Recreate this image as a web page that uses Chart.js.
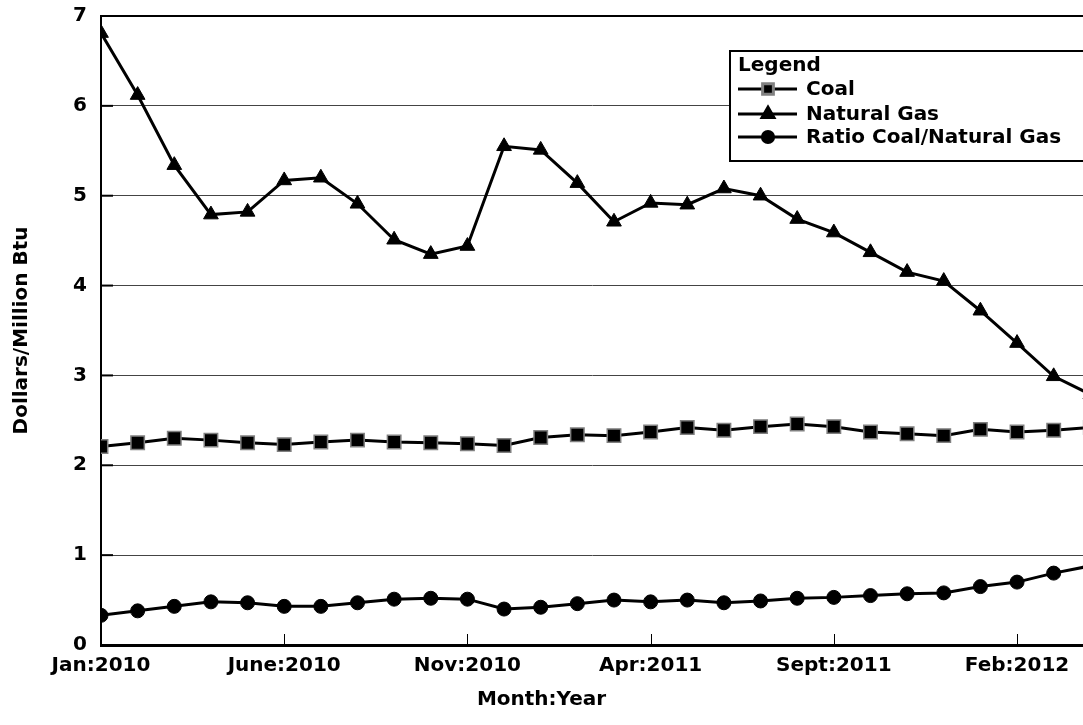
<!DOCTYPE html>
<html>
<head>
<meta charset="utf-8">
<title>Coal and Natural Gas prices</title>
<script src="https://cdn.jsdelivr.net/npm/chart.js@4.4.1/dist/chart.umd.min.js"></script>
<style>
    body { margin: 0; background: #fff; }
    #chart { display: block; }
</style>
</head>
<body>
<canvas id="chart" width="1083" height="725"></canvas>
<script>
"use strict";

// maanden vanaf Jan:2010 (index 0) t/m Apr:2012
const tickLabels = ["Jan:2010", "June:2010", "Nov:2010", "Apr:2011", "Sept:2011", "Feb:2012"];

const coal = [2.21, 2.25, 2.30, 2.28, 2.25, 2.23, 2.26, 2.28, 2.26, 2.25,
    2.24, 2.22, 2.31, 2.34, 2.33, 2.37, 2.42, 2.39, 2.43, 2.46,
    2.43, 2.37, 2.35, 2.33, 2.40, 2.37, 2.39, 2.42];

const naturalGas = [6.81, 6.12, 5.34, 4.79, 4.82, 5.17, 5.20, 4.91, 4.51, 4.35,
    4.44, 5.55, 5.51, 5.14, 4.71, 4.92, 4.90, 5.08, 5.00, 4.74,
    4.59, 4.37, 4.15, 4.05, 3.72, 3.36, 2.99, 2.79];

const ratio = [0.33, 0.38, 0.43, 0.48, 0.47, 0.43, 0.43, 0.47, 0.51, 0.52,
    0.51, 0.40, 0.42, 0.46, 0.50, 0.48, 0.50, 0.47, 0.49, 0.52,
    0.53, 0.55, 0.57, 0.58, 0.65, 0.70, 0.80, 0.88];

const FONT = "'DejaVu Sans', 'Liberation Sans', Arial, sans-serif";

function toPoints(values) {
    return values.map((v, i) => ({ x: i, y: v }));
}

// legenda binnen de grafiek, x-titel en kleine streepjes langs de assen
const extras = {
    id: "extras",
    afterDraw(chart) {
        const ctx = chart.ctx;
        const area = chart.chartArea;
        const xs = chart.scales.x;
        const ys = chart.scales.y;

        ctx.save();
        ctx.strokeStyle = "#000";
        ctx.lineWidth = 1;
        for (let m = 5; m < 27; m += 5) {
            const px = Math.round(xs.getPixelForValue(m)) + 0.5;
            ctx.beginPath();
            ctx.moveTo(px, area.bottom);
            ctx.lineTo(px, area.bottom - 11);
            ctx.stroke();
        }
        ctx.lineWidth = 2;
        for (let v = 1; v < 7; v++) {
            const py = ys.getPixelForValue(v);
            ctx.beginPath();
            ctx.moveTo(area.left, py);
            ctx.lineTo(area.left + 12, py);
            ctx.stroke();
        }

        ctx.fillStyle = "#000";
        ctx.font = "bold 20px " + FONT;
        ctx.textBaseline = "middle";

        // as-titel onderaan, gecentreerd op het hele canvas
        ctx.textAlign = "center";
        ctx.fillText("Month:Year", chart.width / 2, 700);

        // legenda
        const box = { x: 730, y: 51, w: 360, h: 110 };
        ctx.fillStyle = "#fff";
        ctx.fillRect(box.x, box.y, box.w, box.h);
        ctx.lineWidth = 2;
        ctx.strokeRect(box.x, box.y, box.w, box.h);

        ctx.fillStyle = "#000";
        ctx.textAlign = "left";
        ctx.fillText("Legend", 738, 66);

        const rows = [89, 114, 137];
        chart.data.datasets.forEach((ds, i) => {
            const y = rows[i];
            ctx.strokeStyle = "#000";
            ctx.lineWidth = 3;
            ctx.beginPath();
            ctx.moveTo(738, y);
            ctx.lineTo(797, y);
            ctx.stroke();
            ctx.fillStyle = "#000";
            ctx.strokeStyle = ds.pointBorderColor;
            Chart.helpers.drawPoint(ctx, {
                pointStyle: ds.pointStyle,
                radius: ds.pointRadius * 0.8,
                rotation: 0,
                borderWidth: ds.pointBorderWidth
            }, 768, y);
            ctx.fillStyle = "#000";
            ctx.fillText(ds.label, 806, y + 1);
        });
        ctx.restore();
    }
};

const ctx = document.getElementById("chart").getContext("2d");
const chart = new Chart(ctx, {
    type: "line",
    data: {
        datasets: [{
            label: "Coal",
            data: toPoints(coal),
            borderColor: "#000",
            borderWidth: 3,
            pointStyle: "rect",
            pointRadius: 9.5,
            pointBackgroundColor: "#000",
            pointBorderColor: "#808080",
            pointBorderWidth: 1.5
        }, {
            label: "Natural Gas",
            data: toPoints(naturalGas),
            borderColor: "#000",
            borderWidth: 3,
            pointStyle: "triangle",
            pointRadius: 8.5,
            pointBackgroundColor: "#000",
            pointBorderColor: "#000",
            pointBorderWidth: 1
        }, {
            label: "Ratio Coal/Natural Gas",
            data: toPoints(ratio),
            borderColor: "#000",
            borderWidth: 3,
            pointStyle: "circle",
            pointRadius: 7,
            pointBackgroundColor: "#000",
            pointBorderColor: "#000",
            pointBorderWidth: 1
        }]
    },
    options: {
        responsive: false,
        animation: false,
        layout: {
            autoPadding: false,
            padding: { top: 16, right: 0, left: 0, bottom: 0 }
        },
        plugins: {
            legend: { display: false },
            tooltip: { enabled: false }
        },
        scales: {
            x: {
                type: "linear",
                min: 0,
                max: 26.8,
                afterFit(scale) {
                    scale.height = 80;
                    scale.paddingLeft = 0;
                    scale.paddingRight = 0;
                },
                border: { color: "#000", width: 3 },
                grid: { display: false },
                ticks: {
                    stepSize: 5,
                    includeBounds: false,
                    autoSkip: false,
                    maxRotation: 0,
                    padding: 1,
                    color: "#000",
                    font: { family: FONT, size: 20, weight: "bold" },
                    callback: v => (v % 5 === 0 ? tickLabels[v / 5] : "")
                }
            },
            y: {
                min: 0,
                max: 7,
                afterFit(scale) {
                    scale.width = 101;
                    scale.paddingTop = 0;
                    scale.paddingBottom = 0;
                },
                border: { color: "#000", width: 2 },
                grid: {
                    drawTicks: false,
                    color: c => (c.tick.value === 7 ? "#000" : "#444"),
                    lineWidth: c => (c.tick.value === 7 ? 2 : 1)
                },
                ticks: {
                    stepSize: 1,
                    padding: 14,
                    color: "#000",
                    font: { family: FONT, size: 20, weight: "bold" }
                },
                title: {
                    display: true,
                    text: "Dollars/Million Btu",
                    color: "#000",
                    font: { family: FONT, size: 20, weight: "bold" },
                    padding: { top: 10, bottom: 0 }
                }
            }
        }
    },
    plugins: [extras]
});
</script>
</body>
</html>
